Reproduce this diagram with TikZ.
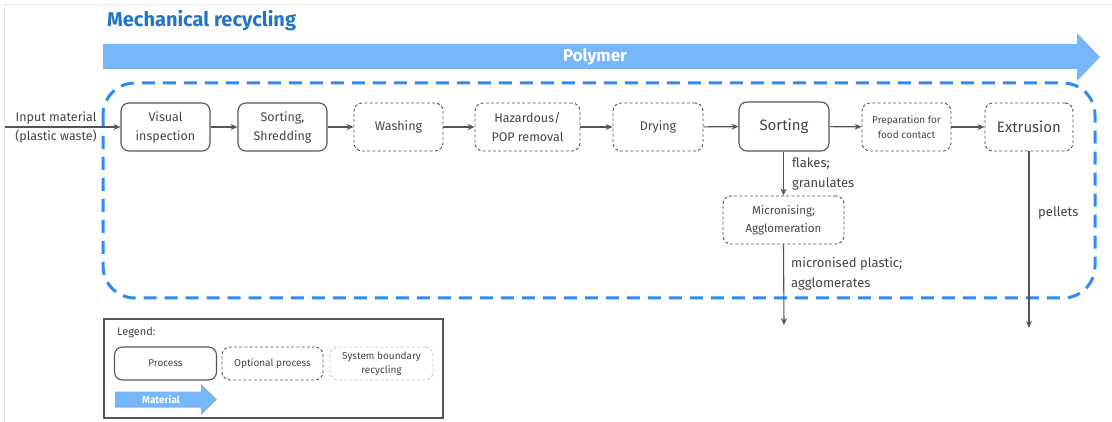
\documentclass[tikz,border=0pt]{standalone}
\usepackage{fontspec}
\setmainfont{Fira Sans}
\usetikzlibrary{arrows.meta}
\definecolor{inkgray}{HTML}{444444}
\definecolor{linegray}{HTML}{555555}
\definecolor{flowblue}{HTML}{77B6F8}
\definecolor{boundblue}{HTML}{2C8CEF}
\definecolor{paleblue}{HTML}{A8CEF7}
\definecolor{titleblue}{HTML}{2274C6}
\definecolor{framegray}{HTML}{E6E6E6}
\tikzset{
  proc/.style={draw=linegray, line width=1.1pt, rounded corners=8pt, minimum width=89pt,
    minimum height=48pt, align=center, text=inkgray, font=\fontsize{12.5}{19}\selectfont, inner sep=2pt},
  optproc/.style={proc, dashed, dash pattern=on 3pt off 2.2pt, line width=0.9pt},
  arr/.style={draw=linegray, line width=1.1pt, -{Stealth[length=7pt,width=6pt]}},
  lbl/.style={text=inkgray, align=left, anchor=north west, inner sep=0pt,
    font=\fontsize{13}{20}\selectfont},
  flow/.style={fill=flowblue, draw=none},
}
\begin{document}
\begin{tikzpicture}[x=1pt,y=-1pt]
\useasboundingbox (0,0) rectangle (1112,422);
% faint page frame
\draw[framegray, line width=0.8pt] (4,430) -- (4,4) -- (1120,4);

% title
\node[anchor=west, inner sep=0pt, text=titleblue, font=\fontsize{20}{22}\bfseries] (title) at (107,21) {Mechanical recycling};

% polymer flow arrow
\fill[flowblue] (103,44) -- (1077,44) -- (1077,33) -- (1100,57) -- (1077,81) -- (1077,69) -- (103,69) -- cycle;
\node[text=white, font=\fontsize{17}{19}\bfseries] (poly) at (595,57) {Polymer};

% system boundary
\draw[boundblue, line width=3pt, dash pattern=on 13pt off 8pt, rounded corners=32pt]
  (103,83) rectangle (1095,298);

% process chain
\node[proc] (vis) at (165.5,127) {Visual\\inspection};
\node[proc] (shred) at (282.5,127) {Sorting,\\Shredding};
\node[optproc] (wash) at (398.5,127) {Washing};
\node[optproc, minimum width=105pt] (haz) at (527.5,127) {Hazardous/\\POP removal};
\node[optproc, minimum width=90pt] (dry) at (658,127) {Drying};
\node[proc, minimum width=90pt, minimum height=49pt, font=\fontsize{15}{18}\selectfont] (sort) at (784,126.5) {Sorting};
\node[optproc, font=\fontsize{10}{14.5}\selectfont] (food) at (906.5,127) {Preparation for\\food contact};
\node[optproc, minimum width=88pt, font=\fontsize{15}{18}\selectfont] (ext) at (1029,127) {Extrusion};
\node[optproc, minimum width=121pt, font=\fontsize{11.5}{18}\selectfont] (micro) at (783.5,220) {Micronising;\\Agglomeration};

% input
\coordinate (in) at (5,127);
\node[text=inkgray, align=center, font=\fontsize{12.5}{19}\selectfont, inner sep=0pt] (inlbl) at (56,127) {Input material\\(plastic waste)};
\draw[arr] (in) -- (vis);
\draw[arr] (vis) -- (shred);
\draw[arr] (shred) -- (wash);
\draw[arr] (wash) -- (haz);
\draw[arr] (haz) -- (dry);
\draw[arr] (dry) -- (sort);
\draw[arr] (sort) -- (food);
\draw[arr] (food) -- (ext);

% outputs
\coordinate (mout) at (784,325);
\coordinate (pout) at (1029,328);
\draw[arr] (sort.south -| micro.north) -- (micro.north);
\draw[arr] (micro.south) -- (mout);
\draw[arr] (ext.south) -- (pout);
\node[lbl] (flk) at (792,158) {flakes;\\granulates};
\node[lbl] (mic) at (791,257) {micronised plastic;\\agglomerates};
\node[lbl] (pel) at (1038,207) {pellets};

% legend
\draw[linegray, line width=1.3pt] (104,319) rectangle (443,418);
\node[anchor=west, inner sep=0pt, text=inkgray, font=\fontsize{11}{13}\selectfont] (leg) at (117,333) {Legend:};
\node[proc, minimum width=102pt, minimum height=33pt, font=\fontsize{10}{13}\selectfont] (lp) at (165.5,363.5) {Process};
\node[optproc, minimum width=101pt, minimum height=33pt, font=\fontsize{10}{13}\selectfont] (lo) at (272.5,363.5) {Optional process};
\node[optproc, draw=paleblue, minimum width=103pt, minimum height=33pt, font=\fontsize{10}{14}\selectfont] (lb) at (381.5,363.5) {System boundary\\recycling};
\fill[flowblue] (115,391.5) -- (201,391.5) -- (201,384) -- (217,399.5) -- (201,415) -- (201,407.5) -- (115,407.5) -- cycle;
\node[text=white, font=\fontsize{10}{12}\bfseries] (mat) at (161,399.5) {Material};
\end{tikzpicture}
\end{document}
